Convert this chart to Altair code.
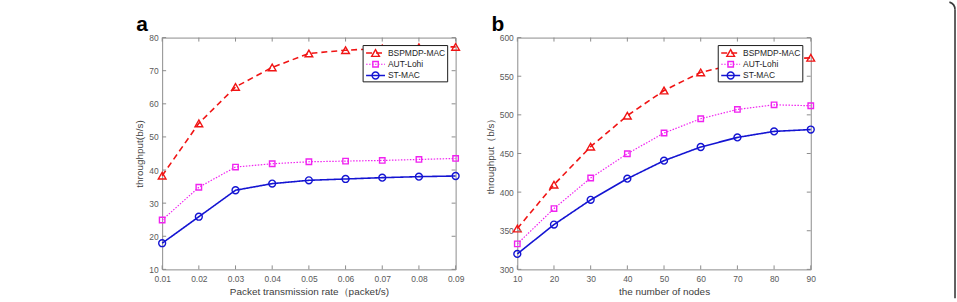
import altair as alt
import pandas as pd

FONT = "Liberation Sans"

series = ["BSPMDP-MAC", "AUT-Lohi", "ST-MAC"]
colors = ["#f01414", "#f022f0", "#1414d2"]
dashes = [[6, 4], [1.5, 1.5], [1, 0]]
shapes = ["triangle-up", "square", "circle"]
sizes = [60, 30, 48]
widths = [1.6, 1.2, 1.6]

# panel a: throughput vs packet transmission rate
rate = [0.01, 0.02, 0.03, 0.04, 0.05, 0.06, 0.07, 0.08, 0.09]
a_bspmdp = [38.3, 54.1, 65.1, 71.0, 75.2, 76.2, 76.7, 77.1, 77.2]
a_aut = [24.9, 34.8, 40.9, 41.9, 42.5, 42.7, 42.9, 43.2, 43.5]
a_st = [17.9, 25.9, 33.9, 35.9, 36.9, 37.3, 37.7, 38.0, 38.2]
a_xticks = rate
a_yticks = [10, 20, 30, 40, 50, 60, 70, 80]

# panel b: throughput vs number of nodes
nodes = [10, 20, 30, 40, 50, 60, 70, 80, 90]
b_bspmdp = [352.8, 409.7, 458.8, 499.0, 531.5, 555.0, 566.0, 572.0, 573.8]
b_aut = [333.0, 378.7, 418.3, 449.7, 476.5, 495.0, 507.0, 513.0, 511.8]
b_st = [320.0, 358.0, 390.0, 417.4, 440.7, 458.4, 470.8, 478.6, 481.0]
b_xticks = nodes
b_yticks = [300, 350, 400, 450, 500, 550, 600]

W, H = 295, 233
TICK = 4
AXIS_GRAY = "#8c8c8c"


def panel(xs, ys_list, xdom, ydom, xticks, yticks, xfmt, xtitle, ytitle, letter, ytitle_pad):
    X = alt.X("x:Q", scale=alt.Scale(domain=xdom, nice=False, zero=False),
              axis=alt.Axis(values=xticks, format=xfmt, title=xtitle, ticks=False,
                            domain=False, grid=False, labelPadding=5, titlePadding=4,
                            labelFlush=False,
                            labelFontSize=8.5, titleFontSize=10, labelColor="#5a5a5a",
                            titleColor="#3c3c3c", labelFont=FONT, titleFont=FONT,
                            titleFontWeight="normal"))
    Y = alt.Y("y:Q", scale=alt.Scale(domain=ydom, nice=False, zero=False),
              axis=alt.Axis(values=yticks, title=ytitle, ticks=False, domain=False,
                            grid=False, labelPadding=4, titlePadding=ytitle_pad,
                            labelFlush=False,
                            labelFontSize=8.5, titleFontSize=10, labelColor="#5a5a5a",
                            titleColor="#3c3c3c", labelFont=FONT, titleFont=FONT,
                            titleFontWeight="normal"))

    layers = []
    for name, ys, c, d, s, sz, w in zip(series, ys_list, colors, dashes, shapes, sizes, widths):
        df = pd.DataFrame({"x": xs, "y": ys, "series": name})
        layers.append(alt.Chart(df).mark_line(color=c, strokeDash=d, strokeWidth=w).encode(x=X, y=Y))
        layers.append(alt.Chart(df).mark_point(shape=s, size=sz, filled=False, color=c,
                                               strokeWidth=1.4, opacity=1).encode(x=X, y=Y))

    # inward ticks on all four sides
    xt = pd.DataFrame({"x": xticks})
    yt = pd.DataFrame({"y": yticks})
    tick_style = dict(color=AXIS_GRAY, strokeWidth=1)
    layers.append(alt.Chart(xt).mark_rule(**tick_style).encode(x=X, y=alt.value(H), y2=alt.value(H - TICK)))
    layers.append(alt.Chart(xt).mark_rule(**tick_style).encode(x=X, y=alt.value(0), y2=alt.value(TICK)))
    layers.append(alt.Chart(yt).mark_rule(**tick_style).encode(y=Y, x=alt.value(0), x2=alt.value(TICK)))
    layers.append(alt.Chart(yt).mark_rule(**tick_style).encode(y=Y, x=alt.value(W), x2=alt.value(W - TICK)))

    # legend box
    one = pd.DataFrame({"k": [0]})
    lx0, lx1, ly0, ly1 = 202, 287, 8, 44.5
    layers.append(alt.Chart(one).mark_rect(fill="white", stroke="#1a1a1a", strokeWidth=1).encode(
        x=alt.value(lx0), x2=alt.value(lx1), y=alt.value(ly0), y2=alt.value(ly1)))
    for i, (name, c, d, s, sz, w) in enumerate(zip(series, colors, dashes, shapes, sizes, widths)):
        yy = 15.5 + 11.3 * i
        layers.append(alt.Chart(one).mark_rule(color=c, strokeDash=d, strokeWidth=w).encode(
            x=alt.value(205), x2=alt.value(224), y=alt.value(yy)))
        layers.append(alt.Chart(one).mark_point(shape=s, size=sz, filled=False, color=c,
                                                strokeWidth=1.4, opacity=1).encode(
            x=alt.value(214.5), y=alt.value(yy)))
        layers.append(alt.Chart(one).mark_text(text=name, align="left", baseline="middle",
                                               fontSize=8.5, font=FONT, color="#1e1e1e").encode(
            x=alt.value(227), y=alt.value(yy)))

    # panel letter
    layers.append(alt.Chart(one).mark_text(text=letter, align="left", baseline="alphabetic",
                                           fontSize=21, fontWeight="bold", font=FONT,
                                           color="black").encode(
        x=alt.value(-26), y=alt.value(-7)))
    return layers


pa = panel(rate, [a_bspmdp, a_aut, a_st], [0.01, 0.09], [10, 80], a_xticks, a_yticks,
           ".2f", "Packet transmission rate（packet/s)", "throughput(b/s)", "a", 4)
pb = panel(nodes, [b_bspmdp, b_aut, b_st], [10, 90], [300, 600], b_xticks, b_yticks,
           "d", "the number of nodes", "throughput（b/s）", "b", 4)

# page frame edge on the right
one = pd.DataFrame({"k": [0]})
pb.append(alt.Chart(one).mark_rule(color="#3a3a3a", strokeWidth=1.6).encode(
    x=alt.value(440), y=alt.value(-28), y2=alt.value(262)))
pb.append(alt.Chart(one).mark_arc(radius=8.8, radius2=7.2, theta=0.3, theta2=1.5708,
                                  color="#3a3a3a").encode(
    x=alt.value(432), y=alt.value(-28)))

chart_a = alt.layer(*pa).properties(width=W, height=H)
chart_b = alt.layer(*pb).properties(width=W, height=H)

chart = alt.hconcat(chart_a, chart_b, spacing=20).properties(
    padding={"left": 135, "top": 0, "right": 0, "bottom": 0},
    background="white",
).configure_view(stroke=AXIS_GRAY, strokeWidth=1)

chart.save("out.html", embed_options={"renderer": "svg", "actions": False})
